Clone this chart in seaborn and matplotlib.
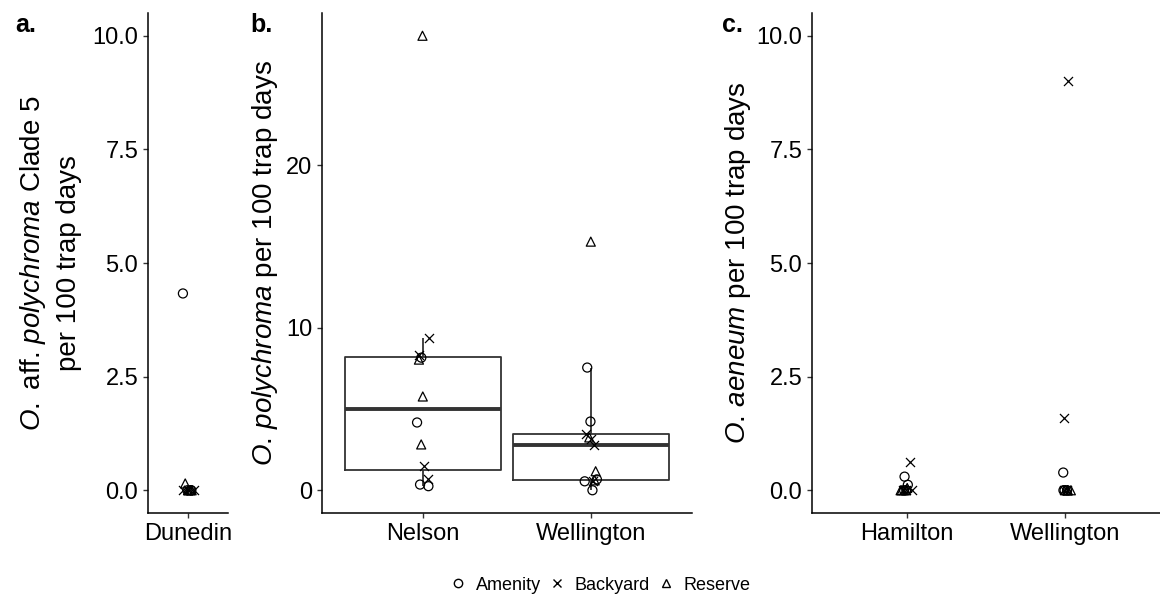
"""
Trap-rate comparison of Oligosoma skinks across cities and site types.
Three panels: a. Dunedin, b. Nelson/Wellington (with boxplots), c. Hamilton/Wellington.
"""

import numpy as np
import pandas as pd
import matplotlib
matplotlib.use("Agg")
import matplotlib.pyplot as plt
from matplotlib.lines import Line2D
import seaborn as sns

SITE_TYPES = ["Amenity", "Backyard", "Reserve"]

# Panel a: O. aff. polychroma Clade 5 (Dunedin)
A_CITIES = ["Dunedin"]
dunedin_amenity = [4.33, 0.0, 0.0, 0.0]
dunedin_backyard = [0.0, 0.0, 0.0, 0.0]
dunedin_reserve = [0.15, 0.0, 0.0, 0.0]

# Panel b: O. polychroma (Nelson, Wellington)
B_CITIES = ["Nelson", "Wellington"]
nelson_amenity = [8.16, 4.17, 0.35, 0.25]
nelson_backyard = [9.39, 8.34, 1.47, 0.67]
nelson_reserve = [27.97, 8.04, 5.77, 2.82]
wellington_b_amenity = [7.55, 4.23, 0.67, 0.55, 0.0]
wellington_b_backyard = [3.44, 3.13, 2.76, 0.6]
wellington_b_reserve = [15.3, 3.25, 1.17, 0.61]

# Panel c: O. aeneum (Hamilton, Wellington)
C_CITIES = ["Hamilton", "Wellington"]
hamilton_amenity = [0.3, 0.12, 0.0, 0.0]
hamilton_backyard = [0.63, 0.0, 0.0, 0.0]
hamilton_reserve = [0.05, 0.0, 0.0, 0.0]
wellington_c_amenity = [0.39, 0.0, 0.0, 0.0]
wellington_c_backyard = [9.01, 1.6, 0.0, 0.0]
wellington_c_reserve = [0.0, 0.0, 0.0, 0.0]

YTICKS_AC = [0.0, 2.5, 5.0, 7.5, 10.0]
YTICKS_B = [0, 10, 20]


def to_long(city_data: dict) -> pd.DataFrame:
    rows = []
    for city, per_site in city_data.items():
        for site, values in zip(SITE_TYPES, per_site):
            for v in values:
                rows.append({"city": city, "site": site, "value": v})
    return pd.DataFrame(rows)


df_a = to_long({"Dunedin": [dunedin_amenity, dunedin_backyard, dunedin_reserve]})
df_b = to_long({
    "Nelson": [nelson_amenity, nelson_backyard, nelson_reserve],
    "Wellington": [wellington_b_amenity, wellington_b_backyard, wellington_b_reserve],
})
df_c = to_long({
    "Hamilton": [hamilton_amenity, hamilton_backyard, hamilton_reserve],
    "Wellington": [wellington_c_amenity, wellington_c_backyard, wellington_c_reserve],
})

MARKERS = {
    "Amenity": dict(marker="o", facecolor="none", edgecolor="black", color="black"),
    "Backyard": dict(marker="x", color="black"),
    "Reserve": dict(marker="^", facecolor="none", edgecolor="black", color="black"),
}

sns.set_theme(style="ticks")
plt.rcParams["font.family"] = ["Liberation Sans", "DejaVu Sans"]
plt.rcParams["mathtext.fontset"] = "custom"
plt.rcParams["mathtext.rm"] = "Liberation Sans"
plt.rcParams["mathtext.it"] = "Liberation Sans:italic"
plt.rcParams["text.color"] = "black"
plt.rcParams["axes.labelcolor"] = "black"
plt.rcParams["axes.edgecolor"] = "black"
plt.rcParams["axes.linewidth"] = 1.1
plt.rcParams["xtick.major.width"] = 1.0
plt.rcParams["ytick.major.width"] = 1.0
plt.rcParams["xtick.major.size"] = 3.5
plt.rcParams["ytick.major.size"] = 3.5
plt.rcParams["xtick.color"] = "#333333"
plt.rcParams["ytick.color"] = "#333333"
plt.rcParams["xtick.labelcolor"] = "black"
plt.rcParams["ytick.labelcolor"] = "black"

np.random.seed(7)

W, H = 1160, 596
fig = plt.figure(figsize=(W / 100, H / 100), dpi=100)


def px_axes(left, right, top, bottom):
    return fig.add_axes([left / W, 1 - bottom / H, (right - left) / W, (bottom - top) / H])


ax_a = px_axes(148, 228, 13, 513)
ax_b = px_axes(322, 692, 13, 513)
ax_c = px_axes(812, 1160, 13, 513)


def draw_points(ax, df, order, jitter):
    for site in SITE_TYPES:
        sub = df[df["site"] == site]
        sns.stripplot(data=sub, x="city", y="value", order=order, jitter=jitter,
                      ax=ax, size=6.5, linewidth=0.9, zorder=3, **MARKERS[site])


sns.boxplot(data=df_b, x="city", y="value", order=B_CITIES, ax=ax_b, fill=False,
            color="#333333", width=0.93, showfliers=False, showcaps=False,
            linewidth=1.3, medianprops=dict(linewidth=2.8))

draw_points(ax_a, df_a, A_CITIES, 0.09)
draw_points(ax_b, df_b, B_CITIES, 0.04)
draw_points(ax_c, df_c, C_CITIES, 0.04)

ax_a.set_xlim(-0.6, 0.6)
ax_b.set_xlim(-0.6, 1.6)
ax_c.set_xlim(-0.6, 1.6)
ax_a.set_ylim(-0.5, 10.5)
ax_c.set_ylim(-0.5, 10.5)
ax_b.set_ylim(-1.4, 29.37)
ax_a.set_yticks(YTICKS_AC)
ax_c.set_yticks(YTICKS_AC)
ax_b.set_yticks(YTICKS_B)
ax_a.set_yticklabels([f"{t:.1f}" for t in YTICKS_AC])
ax_c.set_yticklabels([f"{t:.1f}" for t in YTICKS_AC])

LABEL_SIZE = 20
ax_a.set_ylabel("$\\it{O.}$ aff. $\\it{polychroma}$ Clade 5\nper 100 trap days",
                fontsize=LABEL_SIZE, linespacing=1.4)
ax_b.set_ylabel("$\\it{O.\\,polychroma}$ per 100 trap days", fontsize=LABEL_SIZE)
ax_c.set_ylabel("$\\it{O.\\,aeneum}$ per 100 trap days", fontsize=LABEL_SIZE)
for ax, xpix, left, width in ((ax_a, 50, 148, 80), (ax_b, 265, 322, 370), (ax_c, 738, 812, 348)):
    ax.yaxis.label.set_verticalalignment("center")
    ax.yaxis.set_label_coords((xpix - left) / width, 0.5)

for ax in (ax_a, ax_b, ax_c):
    ax.set_xlabel("")
    ax.tick_params(labelsize=17)
    ax.grid(False)
    sns.despine(ax=ax)

fig.text(15 / W, 1 - 25 / H, "a.", fontsize=18, fontweight="bold", va="center")
fig.text(250 / W, 1 - 25 / H, "b.", fontsize=18, fontweight="bold", va="center")
fig.text(722 / W, 1 - 25 / H, "c.", fontsize=18, fontweight="bold", va="center")

handles = [
    Line2D([], [], linestyle="none", marker="o", markerfacecolor="none",
           markeredgecolor="black", markersize=6, markeredgewidth=1.0),
    Line2D([], [], linestyle="none", marker="x", color="black",
           markersize=6, markeredgewidth=1.0),
    Line2D([], [], linestyle="none", marker="^", markerfacecolor="none",
           markeredgecolor="black", markersize=6, markeredgewidth=1.0),
]
fig.legend(handles, SITE_TYPES, loc="center", bbox_to_anchor=(600 / W, 1 - 585 / H),
           ncol=3, frameon=False, fontsize=13, handlelength=1.0,
           handletextpad=0.5, columnspacing=0.35, borderaxespad=0)

fig.savefig("out.png", dpi=100)
